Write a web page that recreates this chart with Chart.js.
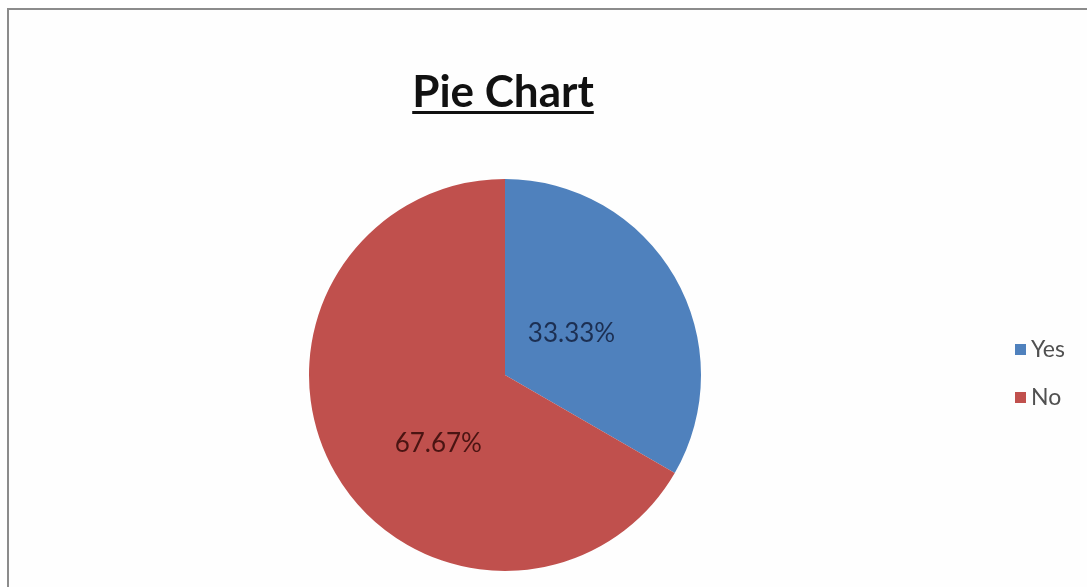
<!DOCTYPE html>
<html>
<head>
<meta charset="utf-8">
<script src="https://cdn.jsdelivr.net/npm/chart.js@4.4.1/dist/chart.umd.min.js"></script>
<style>
  html, body { margin: 0; padding: 0; background: #ffffff; }
  #wrap { position: relative; width: 1087px; height: 587px; }
</style>
</head>
<body>
<div id="wrap"><canvas id="pieChart" width="1087" height="587"></canvas></div>
<script>
// chart data
const categories = ['Yes', 'No'];
const values = [33.33, 66.67];
const valueLabels = ['33.33%', '67.67%'];
const colors = ['#4f81bd', '#c0504d'];
const labelColors = ['#1c2f52', '#4a1412'];

// where excel put the labels: fraction of radius, angle shift in degrees
const labelSpots = [[0.40, -2], [0.49, -16]];

// frame, title, slice labels and legend are drawn by hand
const extrasPlugin = {
    id: 'extras',
    beforeDraw(chart) {
        const c = chart.ctx;
        c.save();
        c.fillStyle = '#fefefe';
        c.fillRect(8, 9, chart.width - 8, chart.height - 9);
        c.strokeStyle = '#8c8c8c';
        c.lineWidth = 2;
        c.beginPath();
        c.moveTo(8, chart.height);
        c.lineTo(8, 9);
        c.lineTo(chart.width, 9);
        c.stroke();
        c.restore();
    },
    afterDraw(chart) {
        const c = chart.ctx;
        c.save();

        // title
        c.font = 'bold 44px Lato, "Open Sans", sans-serif';
        c.fillStyle = '#111111';
        c.textAlign = 'center';
        c.textBaseline = 'alphabetic';
        c.fillText('Pie Chart', 503, 107);
        const w = c.measureText('Pie Chart').width;
        c.fillRect(503 - w / 2, 111, w, 3);

        // slice labels
        const meta = chart.getDatasetMeta(0);
        c.font = '26px Lato, "Open Sans", sans-serif';
        c.textBaseline = 'middle';
        meta.data.forEach((arc, i) => {
            const mid = (arc.startAngle + arc.endAngle) / 2 + labelSpots[i][1] * Math.PI / 180;
            const r = arc.outerRadius * labelSpots[i][0];
            const x = arc.x + Math.cos(mid) * r;
            const y = arc.y + Math.sin(mid) * r;
            c.fillStyle = labelColors[i];
            c.fillText(valueLabels[i], x, y);
        });

        // legend
        c.textAlign = 'left';
        c.font = '23px Lato, "Open Sans", sans-serif';
        categories.forEach((name, i) => {
            const y = 350 + i * 48;
            c.fillStyle = colors[i];
            c.fillRect(1015, y - 6, 11, 11);
            c.fillStyle = '#505050';
            c.fillText(name, 1031, y);
        });
        c.restore();
    }
};

new Chart(document.getElementById('pieChart'), {
    type: 'pie',
    data: {
        labels: categories,
        datasets: [{
            data: values,
            backgroundColor: colors,
            borderWidth: 0
        }]
    },
    options: {
        responsive: false,
        animation: false,
        layout: { padding: { left: 309, right: 386, top: 179, bottom: 16 } },
        plugins: {
            legend: { display: false },
            tooltip: { enabled: false }
        }
    },
    plugins: [extrasPlugin]
});
</script>
</body>
</html>
